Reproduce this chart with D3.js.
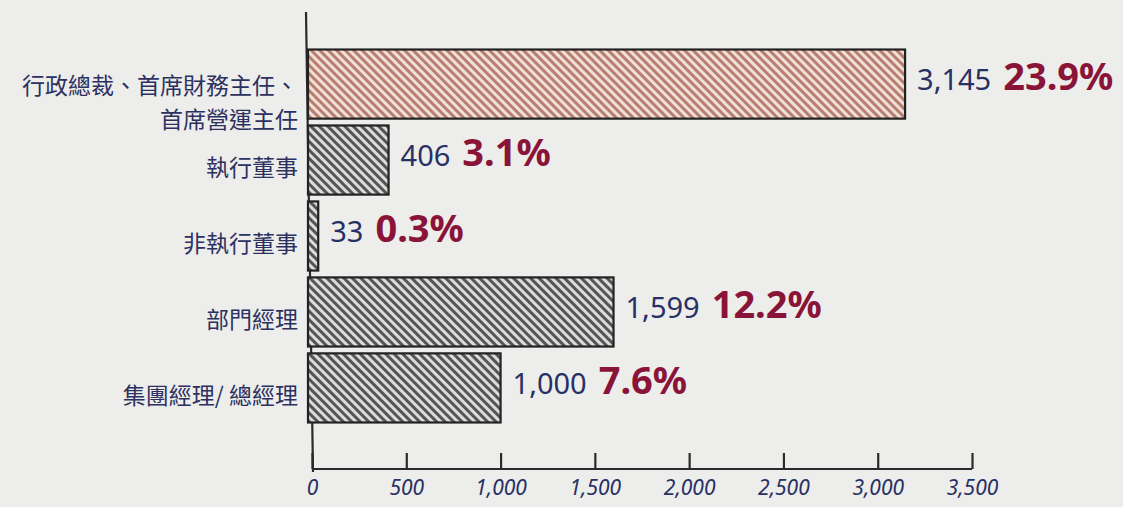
<!doctype html>
<html lang="zh-Hant">
<head>
<meta charset="UTF-8">
<title>Hand-drawn bar chart</title>
<style>
  html, body { margin: 0; padding: 0; background: #ededeb; }
  svg { display: block; }
  .cat { font-family: 'Noto Sans CJK TC', sans-serif; font-size: 23px; fill: #2c3160; }
  .num { font-family: 'Noto Sans', sans-serif; font-size: 29px; fill: #283064; }
  .pct { font-family: 'Noto Sans', sans-serif; font-size: 38px; font-weight: 700; fill: #8a1438; }
  .tick text { font-family: 'Noto Sans', sans-serif; font-style: italic; font-size: 21px; fill: #283064; }
</style>
</head>
<body>
<svg width="1123" height="507"></svg>
<script src="https://cdn.jsdelivr.net/npm/d3@7/dist/d3.min.js"></script>
<script>
  const categories = ['行政總裁、首席財務主任、\n首席營運主任', '執行董事', '非執行董事', '部門經理', '集團經理/ 總經理']
  const values = [3145, 406, 33, 1599, 1000]
  const shares = ['23.9%', '3.1%', '0.3%', '12.2%', '7.6%']
  const tickValues = [0, 500, 1000, 1500, 2000, 2500, 3000, 3500]

  const svg = d3.select('svg')

  // hatch patterns
  const defs = svg.append('defs')
  const hatch = (id, bg, fg) => {
    const p = defs.append('pattern')
      .attr('id', id)
      .attr('patternUnits', 'userSpaceOnUse')
      .attr('width', 6).attr('height', 6)
      .attr('patternTransform', 'rotate(45)')
    p.append('rect').attr('width', 6).attr('height', 6).attr('fill', bg)
    p.append('rect').attr('width', 6).attr('height', 3).attr('fill', fg)
  }
  hatch('hatchRed', '#f1e0d8', '#b87f70')
  hatch('hatchGray', '#dcdcda', '#555')

  const x = d3.scaleLinear().domain([0, 3500]).range([312, 972])
  const y = d3.scaleBand().domain(categories).range([48, 424]).paddingInner(0.09).paddingOuter(0.02)

  // axes lines
  svg.append('line')
    .attr('x1', 306).attr('x2', 313).attr('y1', 12).attr('y2', 472)
    .attr('stroke', '#2a2a2a').attr('stroke-width', 2.2)

  const xAxis = svg.append('g')
    .attr('transform', 'translate(0,469)')
    .call(d3.axisBottom(x).tickValues(tickValues).tickSize(-16).tickPadding(11)
      .tickFormat(d => d3.format(',')(d)))
  xAxis.select('.domain').attr('stroke', '#2a2a2a').attr('stroke-width', 2.2)
    .attr('d', `M${x(0)},0H${x(3500)}`)
  xAxis.selectAll('.tick line').attr('stroke', '#2a2a2a').attr('stroke-width', 2.2)

  // bars
  svg.append('g').selectAll('rect')
    .data(categories)
    .join('rect')
    .attr('x', 308)
    .attr('y', d => y(d))
    .attr('width', (d, i) => x(values[i]) - 308)
    .attr('height', y.bandwidth())
    .attr('fill', (d, i) => i === 0 ? 'url(#hatchRed)' : 'url(#hatchGray)')
    .attr('stroke', '#222')
    .attr('stroke-width', 2.2)

  // category labels (first one on two lines)
  const cat = svg.append('g').selectAll('text')
    .data(categories)
    .join('text')
    .attr('class', 'cat')
    .attr('text-anchor', 'end')
    .attr('x', 298)
    .attr('y', d => y(d) + y.bandwidth() / 2 + 8)
  cat.each(function (d) {
    const lines = d.split('\n')
    const t = d3.select(this)
    lines.forEach((l, j) => {
      t.append('tspan')
        .attr('x', 298)
        .attr('dy', j === 0 ? (lines.length > 1 ? '0.1em' : '0.35em') : '1.45em')
        .text(l)
    })
  })

  // value + share labels
  const lab = svg.append('g').selectAll('text')
    .data(categories)
    .join('text')
    .attr('x', (d, i) => x(values[i]) + 12)
    .attr('y', d => y(d) + y.bandwidth() / 2 + 6)
  lab.append('tspan').attr('class', 'num').text((d, i) => d3.format(',')(values[i]))
  lab.append('tspan').attr('class', 'pct').attr('dx', 12).text((d, i) => shares[i])
</script>
</body>
</html>
